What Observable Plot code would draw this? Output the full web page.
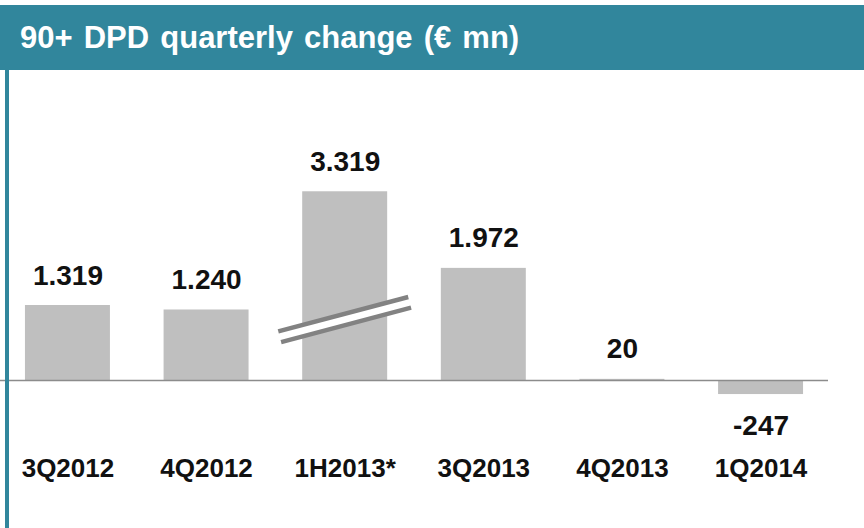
<!DOCTYPE html>
<html><head><meta charset="utf-8">
<script src="https://cdn.jsdelivr.net/npm/d3@7"></script>
<script src="https://cdn.jsdelivr.net/npm/@observablehq/plot@0.6"></script>
<style>
body{margin:0;background:#fff;font-family:"Liberation Sans",Arial,sans-serif;}
#wrap{position:relative;width:864px;height:528px;overflow:hidden;background:#fff;}
#title{position:absolute;left:0;top:5px;width:864px;height:65px;background:#31869c;color:#fff;font-weight:bold;font-size:31px;word-spacing:2.5px;display:flex;align-items:center;padding-left:20px;padding-top:1px;box-sizing:border-box;}
#chart{position:absolute;left:0;top:70px;}
#vline{position:absolute;left:5px;top:70px;width:4px;height:458px;background:#31869c;}
</style></head><body>
<div id="wrap">
  <div id="title">90+ DPD quarterly change (€ mn)</div>
  <div id="chart"></div>
  <div id="vline"></div>
</div>
<script>
const categories = ["3Q2012", "4Q2012", "1H2013*", "3Q2013", "4Q2013", "1Q2014"];
const values = [1319, 1240, 3319, 1972, 20, -247];
const valueLabels = ["1.319", "1.240", "3.319", "1.972", "20", "-247"];
const brokenCategory = "1H2013*";
const breakValue = 1063;

const data = categories.map((c, i) => ({cat: c, value: values[i], label: valueLabels[i]}));

function breakMark(index, scales) {
  const sx = scales.x, sy = scales.y;
  const bw = typeof sx.bandwidth === "function" ? sx.bandwidth() : sx.bandwidth;
  const cx = sx(brokenCategory) + bw / 2;
  const cy = sy(breakValue);
  const half = 65, rise = 17.2;
  const len = Math.hypot(2 * half, 2 * rise);
  const nx = (2 * rise) / len, ny = (2 * half) / len;
  const off = 5.5;
  const g = d3.create("svg:g");
  const p1 = [cx - half + nx * -off, cy + rise + ny * -off];
  const p2 = [cx + half + nx * -off, cy - rise + ny * -off];
  const q1 = [cx - half + nx * off, cy + rise + ny * off];
  const q2 = [cx + half + nx * off, cy - rise + ny * off];
  g.append("polygon").attr("points", [p1, p2, q2, q1].map(p => p.join(",")).join(" ")).attr("fill", "#fff");
  for (const [a, b] of [[p1, p2], [q1, q2]]) {
    g.append("line").attr("x1", a[0]).attr("y1", a[1]).attr("x2", b[0]).attr("y2", b[1])
      .attr("stroke", "#828282").attr("stroke-width", 4.5);
  }
  return g.node();
}

const k = 75 / 1319;
const base = 310;
const chart = Plot.plot({
  width: 864,
  height: 458,
  marginLeft: 0,
  marginRight: 36,
  marginTop: 0,
  marginBottom: 148,
  style: {fontFamily: "'Liberation Sans', Arial, sans-serif", background: "transparent"},
  x: {domain: categories, padding: 0.387, paddingOuter: 0.18, align: 0.5, round: false},
  y: {domain: [0, 1000], range: [base, base - 1000 * k], axis: null},
  marks: [
    Plot.barY(data, {x: "cat", y: "value", fill: "#bfbfbf"}),
    breakMark,
    Plot.ruleY([0], {stroke: "#8c8c8c", strokeWidth: 1.6}),
    Plot.text(data.filter(d => d.value >= 0), {x: "cat", y: "value", text: "label", lineAnchor: "bottom", dy: -21, fontSize: 28, fontWeight: "bold", fill: "#111"}),
    Plot.text(data.filter(d => d.value < 0), {x: "cat", y: "value", text: "label", lineAnchor: "bottom", dy: 40, fontSize: 28, fontWeight: "bold", fill: "#111"}),
    Plot.axisX({anchor: "bottom", tickSize: 0, tickPadding: 78, fontSize: 26, fontWeight: "bold", label: null, fill: "#111"})
  ]
});
document.getElementById("chart").appendChild(chart);
</script>
</body></html>
